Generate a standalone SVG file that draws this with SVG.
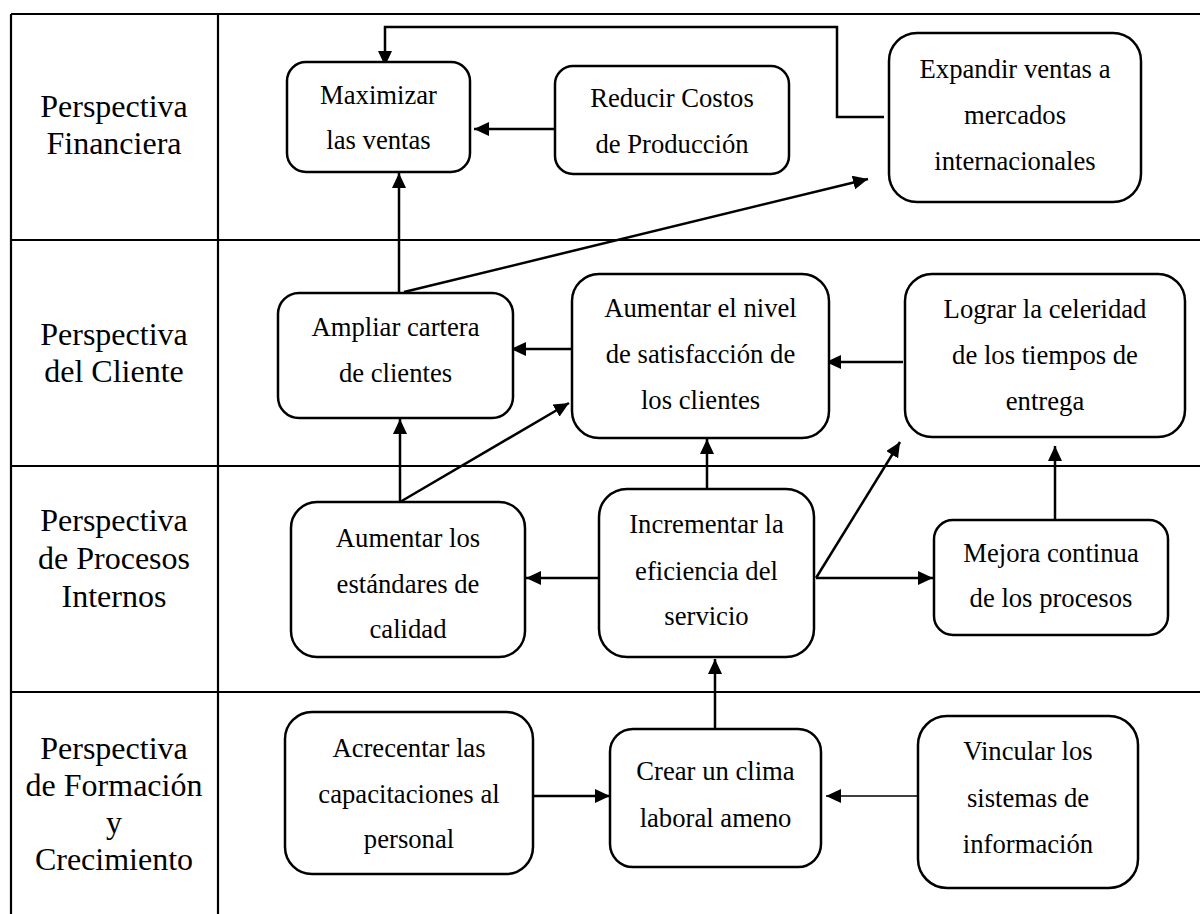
<svg xmlns="http://www.w3.org/2000/svg" width="1200" height="914" viewBox="0 0 1200 914">
<style>
  .grid { stroke: #000; stroke-width: 2.2; fill: none; }
  .box { fill: #fff; stroke: #000; stroke-width: 2.5; }
  .lbl { font-family: "Liberation Serif", "Times New Roman", serif; font-size: 32px; fill: #000; text-anchor: middle; }
  .txt { font-family: "Liberation Serif", "Times New Roman", serif; font-size: 26.67px; fill: #000; text-anchor: middle; }
  .con { stroke: #000; stroke-width: 2.5; fill: none; marker-end: url(#ah); }
  .thin { stroke-width: 1.3; }
</style>
<defs>
  <marker id="ah" markerUnits="userSpaceOnUse" markerWidth="15" markerHeight="14" refX="15" refY="7" orient="auto">
    <path d="M0,0 L15,7 L0,14 z" fill="#000"/>
  </marker>
</defs>
<rect width="1200" height="914" fill="#fff"/>
<g id="table">
  <line class="grid" x1="11" y1="14" x2="1200" y2="14"/>
  <line class="grid" x1="11" y1="14" x2="11" y2="914"/>
  <line class="grid" x1="218" y1="14" x2="218" y2="914"/>
  <line class="grid" x1="11" y1="240" x2="1200" y2="240"/>
  <line class="grid" x1="11" y1="466" x2="1200" y2="466"/>
  <line class="grid" x1="11" y1="692" x2="1200" y2="692"/>
</g>
<g id="row-labels">
  <text class="lbl" x="114"><tspan x="114" y="117">Perspectiva</tspan><tspan x="114" y="154">Financiera</tspan></text>
  <text class="lbl" x="114"><tspan x="114" y="345">Perspectiva</tspan><tspan x="114" y="382">del Cliente</tspan></text>
  <text class="lbl" x="114"><tspan x="114" y="531">Perspectiva</tspan><tspan x="114" y="569">de Procesos</tspan><tspan x="114" y="607">Internos</tspan></text>
  <text class="lbl" x="114"><tspan x="114" y="759">Perspectiva</tspan><tspan x="114" y="796">de Formación</tspan><tspan x="114" y="833">y</tspan><tspan x="114" y="870">Crecimiento</tspan></text>
</g>
<g id="connectors">
  <polyline class="con" points="884,117 837,117 837,27 385,27 385,66"/>
  <line class="con" x1="555" y1="129" x2="474" y2="129"/>
  <line class="con" x1="399" y1="292" x2="399" y2="173"/>
  <line class="con" x1="404" y1="292" x2="868" y2="179"/>
  <line class="con" x1="576" y1="349" x2="511" y2="349"/>
  <line class="con" x1="903" y1="362" x2="826" y2="362"/>
  <line class="con" x1="400" y1="502" x2="400" y2="419"/>
  <line class="con" x1="400" y1="502" x2="569" y2="403"/>
  <line class="con" x1="707" y1="489" x2="707" y2="439"/>
  <line class="con" x1="602" y1="578" x2="526" y2="578"/>
  <line class="con" x1="816" y1="578" x2="900" y2="442"/>
  <line class="con" x1="816" y1="578" x2="933" y2="578"/>
  <line class="con" x1="1055" y1="520" x2="1055" y2="446"/>
  <line class="con" x1="715" y1="729" x2="715" y2="659"/>
  <line class="con" x1="533" y1="796" x2="610" y2="796"/>
  <line class="con thin" x1="918" y1="796" x2="826" y2="796"/>
</g>
<g id="maximizar">
  <rect class="box" x="287" y="62" width="183" height="110" rx="19"/>
  <text class="txt"><tspan x="378.5" y="104">Maximizar</tspan><tspan x="378.5" y="149">las ventas</tspan></text>
</g>
<g id="reducir">
  <rect class="box" x="555" y="66" width="234" height="108" rx="18"/>
  <text class="txt"><tspan x="672" y="107">Reducir Costos</tspan><tspan x="672" y="153">de Producción</tspan></text>
</g>
<g id="expandir">
  <rect class="box" x="889" y="33" width="252" height="169" rx="28"/>
  <text class="txt"><tspan x="1015" y="78">Expandir ventas a</tspan><tspan x="1015" y="124">mercados</tspan><tspan x="1015" y="170">internacionales</tspan></text>
</g>
<g id="ampliar">
  <rect class="box" x="278" y="293" width="235" height="125" rx="21"/>
  <text class="txt"><tspan x="395.5" y="336">Ampliar cartera</tspan><tspan x="395.5" y="382">de clientes</tspan></text>
</g>
<g id="satisfaccion">
  <rect class="box" x="572" y="274" width="257" height="164" rx="27"/>
  <text class="txt"><tspan x="700.5" y="317">Aumentar el nivel</tspan><tspan x="700.5" y="363">de satisfacción de</tspan><tspan x="700.5" y="409">los clientes</tspan></text>
</g>
<g id="lograr">
  <rect class="box" x="905" y="274" width="280" height="163" rx="27"/>
  <text class="txt"><tspan x="1045" y="318">Lograr la celeridad</tspan><tspan x="1045" y="364">de los tiempos de</tspan><tspan x="1045" y="410">entrega</tspan></text>
</g>
<g id="estandares">
  <rect class="box" x="291" y="502" width="234" height="155" rx="26"/>
  <text class="txt"><tspan x="408" y="547">Aumentar los</tspan><tspan x="408" y="593">estándares de</tspan><tspan x="408" y="638">calidad</tspan></text>
</g>
<g id="incrementar">
  <rect class="box" x="599" y="489" width="215" height="168" rx="28"/>
  <text class="txt"><tspan x="706.5" y="533">Incrementar la</tspan><tspan x="706.5" y="580">eficiencia del</tspan><tspan x="706.5" y="625">servicio</tspan></text>
</g>
<g id="mejora">
  <rect class="box" x="934" y="520" width="234" height="115" rx="19"/>
  <text class="txt"><tspan x="1051" y="562">Mejora continua</tspan><tspan x="1051" y="607">de los procesos</tspan></text>
</g>
<g id="acrecentar">
  <rect class="box" x="285" y="712" width="248" height="162" rx="27"/>
  <text class="txt"><tspan x="409" y="757">Acrecentar las</tspan><tspan x="409" y="803">capacitaciones al</tspan><tspan x="409" y="848">personal</tspan></text>
</g>
<g id="crear">
  <rect class="box" x="610" y="729" width="211" height="138" rx="23"/>
  <text class="txt"><tspan x="715.5" y="780">Crear un clima</tspan><tspan x="715.5" y="827">laboral ameno</tspan></text>
</g>
<g id="vincular">
  <rect class="box" x="918" y="716" width="220" height="172" rx="29"/>
  <text class="txt"><tspan x="1028" y="760">Vincular los</tspan><tspan x="1028" y="807">sistemas de</tspan><tspan x="1028" y="853">información</tspan></text>
</g>
</svg>
